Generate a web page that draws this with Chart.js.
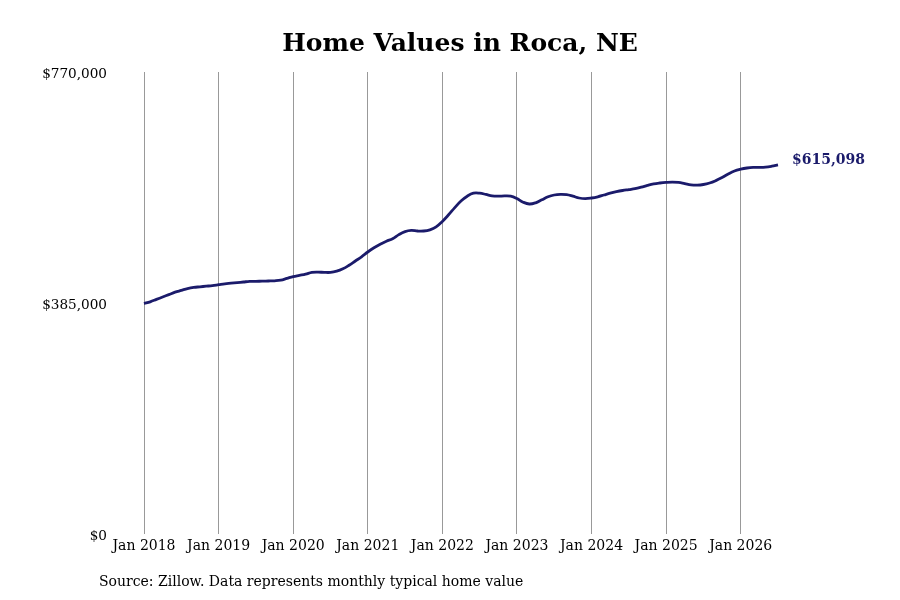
<!DOCTYPE html>
<html>
<head>
<meta charset="utf-8">
<script src="https://cdn.jsdelivr.net/npm/chart.js@4.4.1/dist/chart.umd.min.js"></script>
<style>
  html, body { margin: 0; padding: 0; background: #fff; }
  #wrap { width: 900px; height: 600px; position: relative; }
</style>
</head>
<body>
<div id="wrap"><canvas id="myChart"></canvas></div>
<script>
const FONT = "'DejaVu Serif', 'Liberation Serif', serif";
const LINE_COLOR = "#1b1b6b";

// monthly typical home value, Jan 2018 .. Jul 2026
const monthNames = ["Jan", "Feb", "Mar", "Apr", "May", "Jun", "Jul", "Aug", "Sep", "Oct", "Nov", "Dec"];
const years = [2018, 2019, 2020, 2021, 2022, 2023, 2024, 2025, 2026];
const values2018 = [384000, 387000, 391000, 395000, 399000, 403000, 406000, 409000, 411000, 412000, 413000, 414000];
const values2019 = [415500, 417000, 418000, 419000, 420000, 421000, 421000, 421500, 421700, 422000, 423000, 426000];
const values2020 = [429000, 431000, 433000, 436000, 436500, 436000, 436000, 438000, 442000, 448000, 455000, 462000];
const values2021 = [470000, 477000, 483000, 488000, 492000, 499000, 504000, 506000, 505000, 505000, 507000, 512000];
const values2022 = [521000, 532000, 544000, 555000, 563000, 568000, 568000, 566000, 563500, 563000, 563500, 563000];
const values2023 = [559000, 553000, 550000, 552000, 557000, 562000, 565000, 566000, 565500, 563000, 560000, 559000];
const values2024 = [560000, 562000, 565000, 568000, 570500, 572500, 574000, 575500, 578000, 581000, 583500, 585000];
const values2025 = [586000, 586500, 586000, 584000, 582000, 581500, 582500, 585000, 589000, 594000, 600000, 605000];
const values2026 = [608000, 610000, 611000, 611000, 611500, 613000, 615098];
const yTicks = [0, 385000, 770000];

const values = [].concat(values2018, values2019, values2020, values2021, values2022,
  values2023, values2024, values2025, values2026);
const labels = values.map((v, i) => monthNames[i % 12] + " " + years[Math.floor(i / 12)]);

const money = v => "$" + Math.round(v).toLocaleString("en-US");

// title, source note and end label
const extras = {
  id: "extras",
  afterDraw(chart) {
    const ctx = chart.ctx;
    ctx.save();
    ctx.fillStyle = "#000";
    ctx.textBaseline = "middle";
    ctx.textAlign = "center";
    ctx.font = "bold 25px " + FONT;
    ctx.fillText("Home Values in Roca, NE", 460, 44);

    ctx.textAlign = "left";
    ctx.font = "14px " + FONT;
    ctx.fillText("Source: Zillow. Data represents monthly typical home value", 99, 582);

    const meta = chart.getDatasetMeta(0);
    const last = meta.data[meta.data.length - 1];
    ctx.fillStyle = LINE_COLOR;
    ctx.font = "bold 14px " + FONT;
    ctx.fillText(money(values[values.length - 1]), last.x + 14, last.y - 5);
    ctx.restore();
  }
};

const config = {
  type: "line",
  data: {
    labels: labels,
    datasets: [{
      data: values,
      borderColor: LINE_COLOR,
      borderWidth: 2.8,
      pointRadius: 0,
      tension: 0.4,
      fill: false,
    }],
  },
  options: {
    responsive: false,
    animation: false,
    layout: { padding: { top: 72, right: 122, bottom: 0, left: 0 } },
    plugins: {
      legend: { display: false },
      tooltip: { enabled: false },
    },
    scales: {
      x: {
        offset: false,
        border: { display: false },
        grid: {
          drawTicks: false,
          color: ctx => (ctx.tick && ctx.tick.label !== "") ? "#999999" : "rgba(0,0,0,0)",
          lineWidth: 1,
        },
        ticks: {
          autoSkip: false,
          maxRotation: 0,
          padding: 4,
          color: "#000",
          font: { family: FONT, size: 14 },
          callback: function (val, i) {
            const l = this.getLabelForValue(val);
            return l.startsWith("Jan") ? l : "";
          },
        },
        afterFit: s => { s.height = 66; },
      },
      y: {
        min: 0,
        max: 770000,
        border: { display: false },
        grid: { display: false },
        afterBuildTicks: s => { s.ticks = yTicks.map(v => ({ value: v })); },
        ticks: {
          padding: 29,
          labelOffset: 2,
          color: "#000",
          font: { family: FONT, size: 13.6 },
          callback: v => money(v),
        },
        afterFit: s => { s.width = 144; },
      },
    },
  },
  plugins: [extras],
};

const canvas = document.getElementById("myChart");
canvas.width = 900;
canvas.height = 600;
const myChart = new Chart(canvas, config);
</script>
</body>
</html>
